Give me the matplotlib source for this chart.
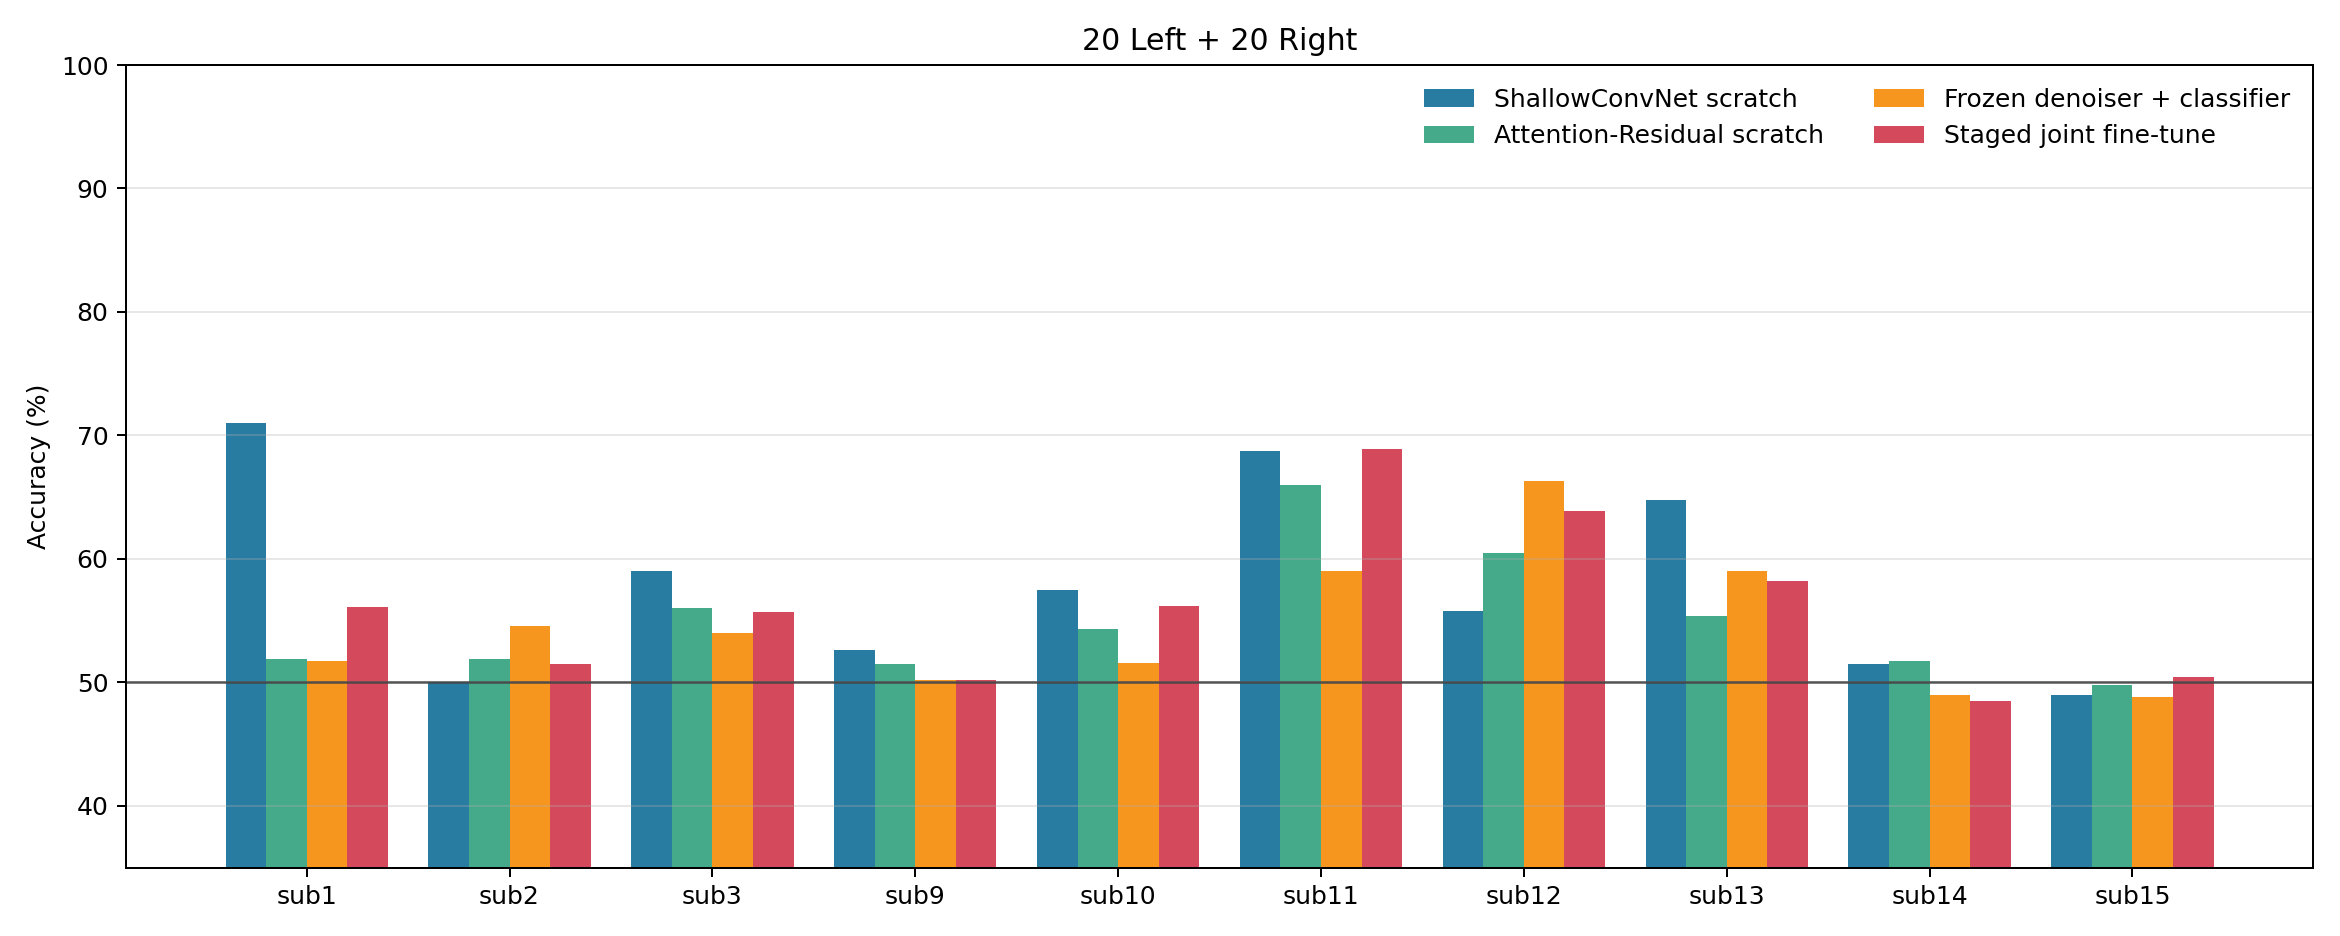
import numpy as np
import matplotlib
matplotlib.use("Agg")
import matplotlib.pyplot as plt

# 被験者ごとの精度 (%)
subjects = ["sub1", "sub2", "sub3", "sub9", "sub10", "sub11", "sub12", "sub13", "sub14", "sub15"]
shallow = [71.0, 50.0, 59.0, 52.6, 57.5, 68.7, 55.8, 64.8, 51.5, 49.0]
attn_res = [51.9, 51.9, 56.0, 51.5, 54.3, 66.0, 60.5, 55.4, 51.7, 49.8]
frozen = [51.7, 54.6, 54.0, 50.2, 51.6, 59.0, 66.3, 59.0, 49.0, 48.8]
staged = [56.1, 51.5, 55.7, 50.2, 56.2, 68.9, 63.9, 58.2, 48.5, 50.4]

series = [
    ("ShallowConvNet scratch", shallow, "#287ba1"),
    ("Attention-Residual scratch", attn_res, "#44aa8a"),
    ("Frozen denoiser + classifier", frozen, "#f7961f"),
    ("Staged joint fine-tune", staged, "#d4495c"),
]

fig, ax = plt.subplots(figsize=(13, 5.2), dpi=180)

x = np.arange(len(subjects))
w = 0.2
for i, (name, vals, col) in enumerate(series):
    ax.bar(x + (i - 1.5) * w, vals, w, label=name, color=col)

# チャンスレベル
ax.axhline(50, color="#444444", lw=1.0, alpha=0.9)

ax.set_xticks(x)
ax.set_xticklabels(subjects)
ax.set_ylim(35, 100)
ax.set_ylabel("Accuracy (%)")
ax.set_title("20 Left + 20 Right", fontsize=12)
ax.grid(axis="y", alpha=0.3)
ax.legend(ncol=2, frameon=False, loc="upper right")

fig.tight_layout()
fig.savefig("out.png", dpi=180)
